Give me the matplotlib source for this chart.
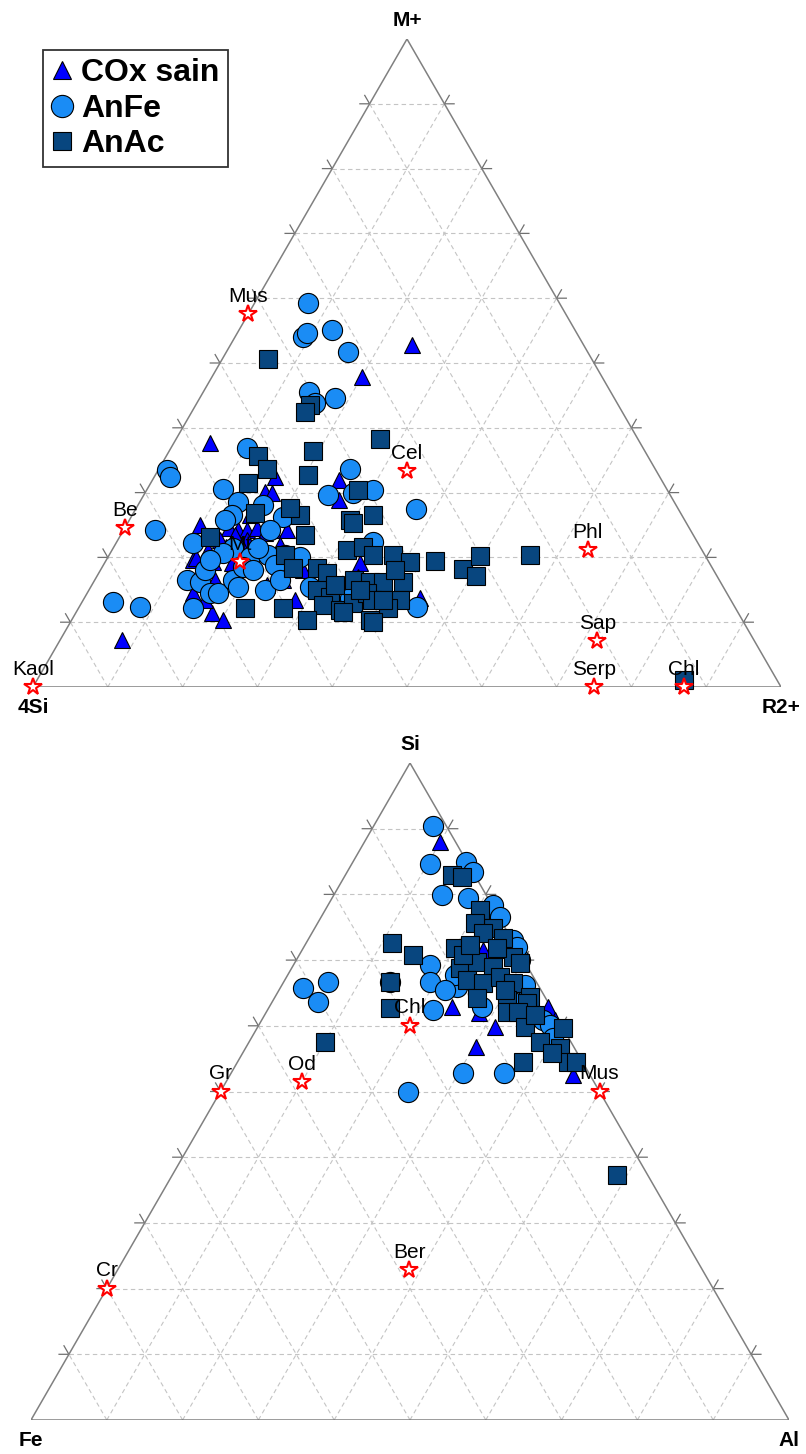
import numpy as np
import matplotlib
matplotlib.use('Agg')
import matplotlib.pyplot as plt
from matplotlib.lines import Line2D

plt.rcParams['font.family'] = ['Liberation Sans', 'DejaVu Sans']

# ---------- top diagram : M+ / 4Si / R2+ (percent, 4Si = 100 - M+ - R2+)
cox_m = [52.8, 47.8, 37.6, 32.4, 31.9, 28.9, 30.1, 29.9, 25.0, 24.5, 24.2, 24.2, 24.5, 23.8,
         24.2, 22.7, 21.9, 24.2, 19.6, 19.3, 21.1, 19.1, 16.5, 15.7, 18.1, 19.1, 17.0, 14.5,
         11.4, 10.3, 13.4, 13.7, 19.9, 7.3, 26.5, 21.9, 21.6, 22.7, 23.5, 21.9, 19.6, 16.5,
         13.4]
cox_r = [24.3, 20.1, 4.9, 16.2, 25.0, 26.4, 16.0, 17.0, 9.8, 14.0, 15.3, 16.5, 17.7, 19.1,
         20.0, 17.3, 19.4, 21.9, 11.6, 14.4, 12.8, 17.0, 25.2, 23.4, 27.0, 34.2, 35.0, 14.2,
         18.2, 20.2, 28.3, 44.9, 11.8, 8.2, 15.8, 16.8, 15.0, 13.7, 15.3, 22.1, 24.6, 16.1,
         16.3]

anfe_m = [59.3, 54.0, 54.6, 55.1, 51.7, 45.5, 44.6, 43.8, 36.9, 33.5, 32.4, 33.6, 30.6, 29.6,
          30.4, 27.5, 28.5, 26.5, 28.1, 29.9, 26.2, 24.2, 22.2, 22.4, 21.4, 20.1, 20.4, 20.1,
          16.5, 16.2, 14.5, 14.5, 16.5, 18.5, 18.1, 12.2, 15.4, 15.4, 12.3, 13.7, 13.1, 12.3,
          20.4, 20.7, 21.4, 18.8, 18.1, 25.8, 24.2, 19.6, 15.0, 16.5]
anfe_r = [7.1, 9.1, 9.3, 12.4, 16.3, 14.1, 18.1, 15.8, 10.2, 1.2, 2.1, 25.6, 10.1, 24.6,
          30.3, 37.4, 13.2, 13.4, 16.7, 27.8, 20.3, 4.2, 10.3, 34.3, 16.0, 19.0, 23.5, 25.7,
          12.4, 14.2, 16.4, 17.5, 18.5, 18.8, 20.4, 15.3, 19.7, 29.3, 45.2, 35.5, 4.1, 8.2,
          21.2, 15.0, 19.4, 23.0, 14.0, 12.8, 19.6, 13.9, 23.5, 24.8]

anac_m = [50.6, 43.5, 42.4, 38.3, 36.4, 35.6, 33.6, 32.7, 31.5, 30.4, 26.5, 26.8, 26.5, 27.6,
          25.8, 25.3, 23.1, 23.5, 21.1, 21.6, 20.4, 20.4, 19.3, 19.4, 18.2, 20.2, 17.1, 20.4,
          20.4, 18.4, 18.4, 17.6, 16.5, 16.2, 16.2, 16.2, 13.4, 12.2, 15.0, 13.9, 12.7, 11.9,
          13.0, 14.5, 13.4, 13.4, 10.3, 12.2, 12.2, 10.3, 11.6, 10.0, 1.1, 15.0, 15.7, 18.1]
anac_r = [6.1, 15.3, 15.2, 27.3, 19.2, 12.3, 14.5, 20.4, 13.0, 28.3, 32.2, 16.3, 22.4, 20.6,
          29.5, 30.1, 12.1, 24.6, 31.4, 33.3, 35.3, 37.9, 40.7, 44.0, 48.4, 49.7, 50.7, 56.2,
          23.5, 25.6, 28.8, 30.5, 34.6, 37.0, 38.7, 41.4, 42.4, 41.4, 30.5, 32.8, 32.4, 35.1,
          36.3, 37.4, 38.6, 40.1, 39.9, 22.2, 27.3, 31.5, 35.6, 40.5, 86.5, 36.2, 32.5, 39.4]

ref1_names = ['Kaol', 'Be', 'Mus', 'Cel', 'Mt', 'Phl', 'Sap', 'Serp', 'Chl']
ref1_m = [0, 24.5, 57.5, 33.3, 19.3, 21.1, 7.1, 0, 0]
ref1_r = [0, 0, 0, 33.3, 18.0, 63.6, 71.9, 75.0, 87.0]

# ---------- bottom diagram : Si / Fe / Al (percent, Fe = 100 - Si - Al)
cox_si = [88.0, 62.9, 61.9, 59.8, 56.8, 52.5, 62.9, 71.5, 71.5, 60.9]
cox_al = [9.9, 24.1, 28.2, 31.3, 30.3, 45.2, 36.7, 23.9, 26.4, 38.7]

anfe_si = [90.4, 84.6, 84.9, 83.4, 79.9, 79.4, 78.4, 76.6, 73.1, 69.3, 66.7, 66.7, 62.4, 66.7,
           65.8, 63.6, 65.9, 60.9, 60.1, 52.8, 52.8, 49.9, 62.9, 70.0, 72.0, 67.7, 65.4, 62.4,
           63.9, 66.2, 58.1]
anfe_al = [7.8, 10.3, 15.0, 16.6, 14.3, 17.9, 21.7, 23.6, 27.1, 18.0, 19.3, 14.0, 21.8, 5.8,
           3.0, 6.1, 23.2, 37.1, 38.4, 30.6, 36.0, 24.8, 28.1, 29.5, 28.1, 22.1, 21.9, 34.6,
           31.2, 32.1, 39.8]

anac_si = [72.6, 70.8, 71.8, 82.9, 82.6, 77.6, 74.9, 73.4, 75.6, 74.1, 66.7, 62.7, 57.5, 68.8,
           69.7, 68.9, 70.5, 69.6, 67.0, 66.5, 67.4, 66.5, 64.4, 64.2, 63.9, 63.5, 62.1, 62.1,
           59.8, 57.5, 59.7, 56.6, 54.5, 54.5, 54.5, 37.3, 70.8, 72.3, 71.8, 61.6, 65.4, 55.9]
anac_al = [11.3, 15.0, 20.0, 14.1, 15.5, 20.4, 23.5, 25.6, 20.8, 22.6, 14.0, 16.0, 10.0, 22.2,
           24.0, 26.5, 28.3, 29.7, 24.0, 26.4, 28.2, 30.4, 33.6, 26.7, 30.8, 33.7, 31.8, 33.2,
           35.3, 38.4, 40.4, 41.5, 43.6, 44.6, 37.6, 58.7, 21.6, 21.8, 25.6, 35.7, 29.8, 40.8]

ref2_names = ['Gr', 'Od', 'Chl', 'Mus', 'Cr', 'Ber']
ref2_si = [50, 51.4, 60, 50, 20, 22.8]
ref2_al = [0, 10, 20, 50, 0, 38.5]

H = np.sqrt(3) / 2
tri_col = '#0000ff'
circ_col = '#1a8cf5'
sq_col = '#08467f'


def tern(top, right):
    top = np.asarray(top, float) / 100
    right = np.asarray(right, float) / 100
    return right + top / 2, top * H


def frame(ax, labels):
    # grid
    for k in range(1, 10):
        f = k / 10
        ax.plot([f / 2, 1 - f / 2], [f * H, f * H], ls=(0, (4, 3)), color='#c4c4c4', lw=0.8, zorder=1)
        ax.plot([f, f / 2 + 0.5], [0, (1 - f) * H], ls=(0, (4, 3)), color='#c4c4c4', lw=0.8, zorder=1)
        ax.plot([f, f / 2], [0, f * H], ls=(0, (4, 3)), color='#c4c4c4', lw=0.8, zorder=1)
        t = 0.013
        ax.plot([f - 0.5 * t, f, f + 0.5 * t], [-H * t, 0, -H * t], color='#707070', lw=0.9, zorder=1)
        lx, ly = f / 2, f * H
        ax.plot([lx - t, lx, lx - 0.5 * t], [ly, ly, ly + H * t], color='#707070', lw=0.9, zorder=1)
        rx = 1 - f / 2
        ax.plot([rx + t, rx, rx + 0.5 * t], [ly, ly, ly + H * t], color='#707070', lw=0.9, zorder=1)
    ax.plot([0, 1, 0.5, 0], [0, 0, H, 0], color='#808080', lw=1.1, zorder=2)
    top, left, right = labels
    kw = dict(textcoords='offset points', ha='center', va='center', fontsize=15, fontweight='bold')
    ax.annotate(top, (0.5, H), xytext=(0, 13), **kw)
    ax.annotate(left, (0, 0), xytext=(0, -15), **kw)
    ax.annotate(right, (1, 0), xytext=(0, -15), **kw)
    ax.set_xlim(0, 1)
    ax.set_ylim(0, H)
    ax.axis('off')


def points(ax, t, r, marker, color, size):
    x, y = tern(t, r)
    ax.plot(x, y, ls='none', marker=marker, ms=size, mfc=color, mec='black', mew=0.8,
            clip_on=False, zorder=4)


def refs(ax, names, t, r):
    x, y = tern(t, r)
    ax.plot(x, y, ls='none', marker='*', ms=13, mfc='white', mec='red', mew=1.5,
            clip_on=False, zorder=6)
    for n, xi, yi in zip(names, x, y):
        ax.annotate(n, (xi, yi), xytext=(0, 6), textcoords='offset points', ha='center',
                    va='bottom', fontsize=15, zorder=6)


fig = plt.figure(figsize=(8.06, 14.54), dpi=100)
W, Hp = 806, 1454
ax1 = fig.add_axes([33 / W, (Hp - 687) / Hp, 748 / W, 648 / Hp])
ax2 = fig.add_axes([31 / W, (Hp - 1420) / Hp, 758 / W, 657 / Hp])

frame(ax1, ('M+', '4Si', 'R2+'))
points(ax1, cox_m, cox_r, '^', tri_col, 12)
points(ax1, anfe_m, anfe_r, 'o', circ_col, 14.5)
points(ax1, anac_m, anac_r, 's', sq_col, 12.5)
refs(ax1, ref1_names, ref1_m, ref1_r)

frame(ax2, ('Si', 'Fe', 'Al'))
points(ax2, cox_si, cox_al, '^', tri_col, 12)
points(ax2, anfe_si, anfe_al, 'o', circ_col, 14.5)
points(ax2, anac_si, anac_al, 's', sq_col, 12.5)
refs(ax2, ref2_names, ref2_si, ref2_al)

handles = [
    Line2D([], [], ls='none', marker='^', ms=13, mfc=tri_col, mec='black', mew=0.8),
    Line2D([], [], ls='none', marker='o', ms=16, mfc=circ_col, mec='black', mew=0.8),
    Line2D([], [], ls='none', marker='s', ms=13, mfc=sq_col, mec='black', mew=0.8),
]
leg = fig.legend(handles, ['COx sain', 'AnFe', 'AnAc'], loc='upper left',
                 bbox_to_anchor=(43 / W, 1 - 50 / Hp), borderaxespad=0, fancybox=False,
                 edgecolor='#333333', framealpha=1, handlelength=0.7, handletextpad=0.25,
                 borderpad=0.25, labelspacing=0.18, prop={'weight': 'bold', 'size': 23})
leg.get_frame().set_linewidth(1.3)

fig.savefig('out.png', dpi=100)
